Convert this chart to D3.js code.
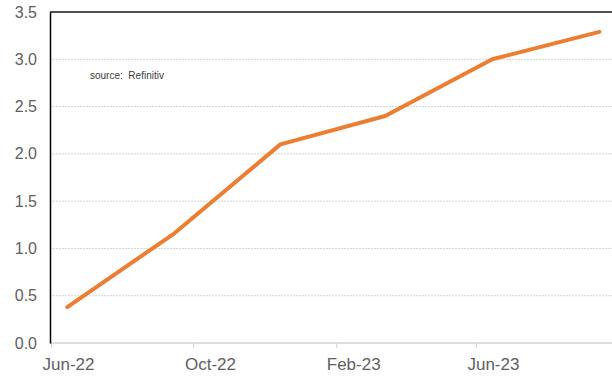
<!DOCTYPE html>
<html>
<head>
<meta charset="utf-8">
<script src="https://cdn.jsdelivr.net/npm/d3@7"></script>
<style>
  body { margin: 0; background: #fff; }
  text { font-family: "Liberation Sans", Arial, sans-serif; }
</style>
</head>
<body>
<svg id="chart" width="612" height="376"></svg>
<script>
// quarterly readings, mid-month
const dates = ["2022-06-15", "2022-09-15", "2022-12-15", "2023-03-15", "2023-06-15", "2023-09-15"];
const values = [0.38, 1.16, 2.10, 2.40, 3.00, 3.29];
const yTicks = [0, 0.5, 1.0, 1.5, 2.0, 2.5, 3.0, 3.5];
const xTicks = ["2022-06-01", "2022-10-01", "2023-02-01", "2023-06-01"];
const sourceNote = "source:  Refinitiv";

const parse = d3.timeParse("%Y-%m-%d");
const data = dates.map((d, i) => ({date: parse(d), value: values[i]}));

const svg = d3.select("#chart");
const plot = {left: 50, top: 12, bottom: 343, right: 612};

const x = d3.scaleTime()
    .domain([parse("2022-06-01"), parse("2023-10-01")])
    .range([plot.left + 1, 618]);
const y = d3.scaleLinear().domain([0, 3.5]).range([plot.bottom, plot.top]);

// gridlines
svg.append("g").selectAll("line")
    .data(yTicks.filter(t => t > 0 && t < 3.5))
    .enter().append("line")
    .attr("x1", plot.left).attr("x2", plot.right)
    .attr("y1", d => y(d)).attr("y2", d => y(d))
    .attr("stroke", "#d4d4d4")
    .attr("stroke-width", 1)
    .attr("stroke-dasharray", "2,1");

// top border
svg.append("line")
    .attr("x1", plot.left).attr("x2", plot.right)
    .attr("y1", y(3.5)).attr("y2", y(3.5))
    .attr("stroke", "#505050").attr("stroke-width", 2);

// bottom axis
const xAxis = d3.axisBottom(x)
    .tickValues(xTicks.map(parse))
    .tickSize(5)
    .tickFormat("");
const gx = svg.append("g").attr("transform", `translate(0,${plot.bottom})`).call(xAxis);
gx.select(".domain").attr("stroke", "#d4d4d4").attr("stroke-width", 1.5)
    .attr("d", `M${plot.left},0H${plot.right}`);
gx.selectAll(".tick line").attr("stroke", "#d4d4d4");

svg.append("g").selectAll("text")
    .data(xTicks.map(parse))
    .enter().append("text")
    .attr("x", d => x(d3.timeDay.offset(d, 15)))
    .attr("y", 370)
    .attr("text-anchor", "middle")
    .attr("font-size", 17)
    .attr("fill", "#606060")
    .text(d3.timeFormat("%b-%y"));

// left axis
const yAxis = d3.axisLeft(y).tickValues(yTicks).tickSize(0).tickPadding(13)
    .tickFormat(d3.format(".1f"));
const gy = svg.append("g").attr("transform", `translate(${plot.left},0)`).call(yAxis);
gy.select(".domain").attr("stroke", "#000").attr("stroke-width", 1.5);
gy.selectAll("text")
    .attr("font-size", 16)
    .attr("fill", "#606060")
    .attr("font-family", "Liberation Sans, Arial, sans-serif");

// series
const line = d3.line().x(d => x(d.date)).y(d => y(d.value));
svg.append("path")
    .datum(data)
    .attr("d", line)
    .attr("fill", "none")
    .attr("stroke", "#ED7D31")
    .attr("stroke-width", 4)
    .attr("stroke-linecap", "round")
    .attr("stroke-linejoin", "round");

svg.append("text")
    .attr("x", 90).attr("y", 79)
    .attr("font-size", 10)
    .attr("fill", "#404040")
    .style("white-space", "pre")
    .text(sourceNote);
</script>
</body>
</html>
